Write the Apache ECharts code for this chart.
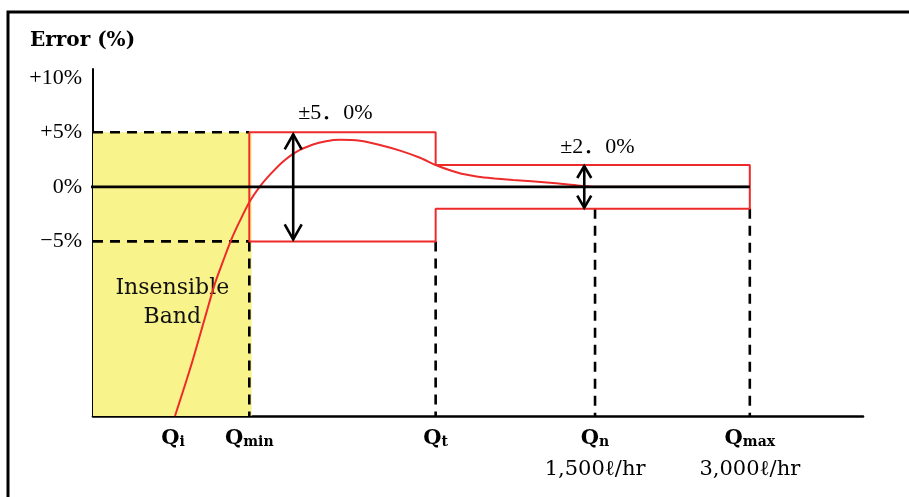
<!DOCTYPE html>
<html>
<head>
<meta charset="utf-8">
<script src="https://cdn.jsdelivr.net/npm/echarts@6/dist/echarts.min.js"></script>
<style>
html, body { margin: 0; padding: 0; background: #fff; }
#chart { width: 909px; height: 497px; }
</style>
</head>
<body>
<div id="chart"></div>
<script>
// Flow-rate marks along the horizontal axis (nominal positions on a 0–100 scale)
const flowSubs = ['i', 'min', 't', 'n', 'max'];
const flowPos = [10.4, 20.3, 44.5, 65.2, 85.3];
const flowRates = ['', '', '', '1,500ℓ/hr', '3,000ℓ/hr'];

// Error axis ticks (%)
const errorTicks = [-5, 0, 5, 10];

// Maximum permissible error: low zone (Qmin–Qt) and high zone (Qt–Qmax)
const lowZoneTol = 5.0;
const highZoneTol = 2.0;
const tolLabels = ['±5．0%', '±2．0%'];
const arrowX = [26.0, 63.8];

// Typical meter error curve (flow position, error %)
const curveX = [10.65, 12.6, 14.55, 15.84, 16.88, 17.92, 19.09, 20.39, 21.69, 22.99, 24.55, 26.36,
                28.57, 30.26, 32.08, 34.68, 37.27, 39.87, 42.47, 44.5, 46.36, 48.05, 50.0, 52.2,
                54.55, 59.35, 63.25, 65.2, 85.3];
const curveY = [-21, -16.7, -11.97, -8.85, -6.83, -4.9, -3.1, -1.3, 0.05, 1.12, 2.24, 3.19,
                3.88, 4.18, 4.31, 4.22, 3.84, 3.32, 2.67, 2.0, 1.52, 1.17, 0.93, 0.77,
                0.63, 0.37, 0.1, 0, 0];

const X_MIN = 0, X_MAX = 100, Y_MIN = -21, Y_MAX = 10.8;
const RED = '#ee2b2b';
const SERIF = 'DejaVu Serif';
const TIMES = 'Liberation Serif';

const [qi, qmin, qt, qn, qmax] = flowPos;

function path(points, lineStyle, z) {
  return {
    type: 'line', data: points, symbol: 'none', silent: true, clip: false,
    lineStyle: lineStyle, z: z
  };
}

const dashed = { color: '#000', width: 2.6, type: [10, 7] };

const series = [
  // Insensible band below Qmin
  {
    type: 'line', data: [], silent: true, z: 1,
    markArea: {
      silent: true,
      itemStyle: { color: '#f9f38c' },
      label: {
        show: true, position: 'inside', offset: [0, 29],
        formatter: 'Insensible\nBand',
        fontFamily: SERIF, fontSize: 22, lineHeight: 29, color: '#111'
      },
      data: [[{ coord: [X_MIN, lowZoneTol] }, { coord: [qmin + 0.3, Y_MIN] }]]
    }
  },
  // Guide lines
  path([[X_MIN, lowZoneTol], [qmin, lowZoneTol]], dashed, 3),
  path([[X_MIN, -lowZoneTol], [qmin, -lowZoneTol]], dashed, 3),
  path([[qmin, -lowZoneTol], [qmin, Y_MIN]], dashed, 3),
  path([[qt, -lowZoneTol], [qt, Y_MIN]], dashed, 3),
  path([[qn, -highZoneTol], [qn, Y_MIN]], dashed, 3),
  path([[qmax, -highZoneTol], [qmax, Y_MIN]], dashed, 3),
  // Permissible error envelope
  path([
    [qmin, lowZoneTol], [qt, lowZoneTol], [qt, highZoneTol], [qmax, highZoneTol],
    [qmax, -highZoneTol], [qt, -highZoneTol], [qt, -lowZoneTol], [qmin, -lowZoneTol],
    [qmin, lowZoneTol]
  ], { color: RED, width: 2 }, 4),
  // Error curve
  Object.assign(path(curveX.map((x, i) => [x, curveY[i]]), { color: RED, width: 2 }, 5),
    { smooth: 0.3 }),
  // Zero line
  path([[X_MIN - 0.4, 0], [qmax, 0]], { color: '#000', width: 2.6 }, 6),
  // Tolerance arrows with labels
  {
    type: 'custom', silent: true, z: 7,
    data: [[arrowX[0], -lowZoneTol, lowZoneTol], [arrowX[1], -highZoneTol, highZoneTol]],
    encode: { x: 0, y: [1, 2] },
    renderItem: function (params, api) {
      const st = [
        { headW: 17, headH: 15, inset: 2, labelDx: 5, labelDy: -19 },
        { headW: 14, headH: 12, inset: 1, labelDx: -24, labelDy: -18 }
      ][params.dataIndex];
      const top = api.coord([api.value(0), api.value(2)]);
      const bot = api.coord([api.value(0), api.value(1)]);
      const x = top[0], y1 = top[1] + st.inset, y2 = bot[1] - st.inset;
      const w = st.headW / 2, h = st.headH;
      const stroke = { stroke: '#000', lineWidth: 2.6, fill: null };
      return {
        type: 'group',
        children: [
          { type: 'line', shape: { x1: x, y1: y1, x2: x, y2: y2 }, style: stroke },
          { type: 'polyline', shape: { points: [[x - w, y1 + h], [x, y1], [x + w, y1 + h]] }, style: stroke },
          { type: 'polyline', shape: { points: [[x - w, y2 - h], [x, y2], [x + w, y2 - h]] }, style: stroke },
          {
            type: 'text',
            style: {
              text: tolLabels[params.dataIndex],
              x: x + st.labelDx, y: top[1] + st.labelDy,
              font: '22px "Liberation Serif", "Noto Sans CJK JP"',
              fill: '#000', align: 'left', verticalAlign: 'middle'
            }
          }
        ]
      };
    }
  }
];

const chart = echarts.init(document.getElementById('chart'), null, { renderer: 'canvas' });
chart.setOption({
  animation: false,
  backgroundColor: '#fff',
  title: {
    text: 'Error (%)', left: 30, top: 31, padding: 0,
    textStyle: { fontFamily: SERIF, fontWeight: 'bold', fontSize: 20, color: '#000' }
  },
  graphic: [{
    type: 'rect', silent: true,
    shape: { x: 8, y: 12, width: 1000, height: 600 },
    style: { stroke: '#000', lineWidth: 3, fill: null }
  }],
  grid: { left: 93, right: 46, top: 69, bottom: 81 },
  xAxis: {
    type: 'value', min: X_MIN, max: X_MAX,
    splitLine: { show: false },
    axisTick: { show: false },
    axisLine: { onZero: false, lineStyle: { color: '#000', width: 2.6 } },
    axisLabel: {
      customValues: flowPos,
      margin: 9,
      formatter: function (v) {
        const i = flowPos.indexOf(v);
        let s = '{q|Q}{s|' + flowSubs[i] + '}';
        if (flowRates[i]) s += '\n{f|' + flowRates[i] + '}';
        return s;
      },
      rich: {
        q: { fontFamily: SERIF, fontWeight: 'bold', fontSize: 21, color: '#000', lineHeight: 24, verticalAlign: 'bottom' },
        s: { fontFamily: SERIF, fontWeight: 'bold', fontSize: 14, color: '#000', lineHeight: 15, verticalAlign: 'bottom' },
        f: { fontFamily: SERIF, fontSize: 21, color: '#000', lineHeight: 42 }
      }
    }
  },
  yAxis: {
    type: 'value', min: Y_MIN, max: Y_MAX,
    splitLine: { show: false },
    axisTick: { show: false },
    axisLine: { onZero: false, lineStyle: { color: '#000', width: 2 } },
    axisLabel: {
      customValues: errorTicks,
      margin: 11,
      fontFamily: TIMES, fontSize: 22, color: '#000',
      formatter: function (v) {
        if (v > 0) return '+' + v + '%';
        if (v < 0) return '−' + Math.abs(v) + '%';
        return '0%';
      }
    }
  },
  series: series
});
</script>
</body>
</html>
